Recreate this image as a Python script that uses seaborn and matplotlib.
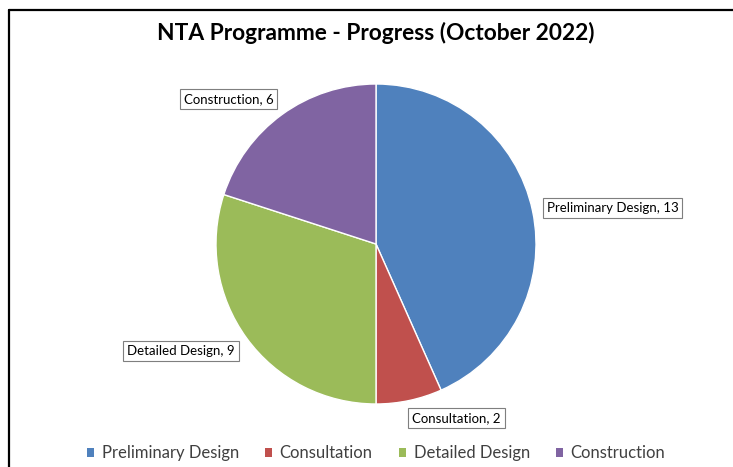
import matplotlib.pyplot as plt
import seaborn as sns
import numpy as np
from matplotlib.patches import Patch
from matplotlib.lines import Line2D

# chart data
stages = ["Preliminary Design", "Consultation", "Detailed Design", "Construction"]
counts = [13, 2, 9, 6]
colours = ["#4F81BD", "#C0504D", "#9BBB59", "#8064A2"]
title = "NTA Programme - Progress (October 2022)"

sns.set_theme(style="white")
plt.rcParams['font.family'] = ['Lato', 'DejaVu Sans']

W, H = 733, 467
fig = plt.figure(figsize=(W / 100, H / 100), dpi=100)

# pie centre and radius in pixels
cx, cy, r = 376, 244, 160
ax = fig.add_axes([(cx - r) / W, (H - cy - r) / H, 2 * r / W, 2 * r / H])
palette = sns.color_palette(colours)
wedges, _ = ax.pie(counts, colors=palette, startangle=90, counterclock=False,
                   radius=1, wedgeprops=dict(edgecolor='white', linewidth=1))
ax.set_xlim(-1, 1)
ax.set_ylim(-1, 1)
ax.axis('off')

# data labels outside each slice
for w, name, n in zip(wedges, stages, counts):
    ang = np.deg2rad((w.theta1 + w.theta2) / 2)
    x, y = 1.09 * np.cos(ang), 1.075 * np.sin(ang)
    ha = 'left' if x > 0 else 'right'
    if abs(y) < 0.4:
        va = 'center'
    else:
        va = 'bottom' if y > 0 else 'top'
    ax.text(x, y, f"{name}, {n}", ha=ha, va=va, fontsize=9.5, color='#000000',
            bbox=dict(boxstyle='square,pad=0.3', facecolor='white',
                      edgecolor='#7f7f7f', linewidth=0.8))

fig.text(cx / W, 1 - 33 / H, title, ha='center', va='center',
         fontsize=16.4, fontweight='bold', color='black')

handles = [Patch(facecolor=c, edgecolor='none') for c in palette]
fig.legend(handles, stages, loc='center', bbox_to_anchor=(cx / W, 1 - 453 / H),
           ncol=4, frameon=False, fontsize=12, labelcolor='#404040',
           handlelength=0.45, handleheight=0.45,
           handletextpad=0.45, columnspacing=1.55)

# chart frame (cropped at right and bottom)
fig.add_artist(Line2D([8.5 / W, 1], [1 - 10 / H, 1 - 10 / H], color='black',
                      linewidth=1.6, transform=fig.transFigure))
fig.add_artist(Line2D([8.5 / W, 8.5 / W], [0, 1 - 10 / H], color='black',
                      linewidth=1.6, transform=fig.transFigure))

fig.savefig('out.png', dpi=100)
